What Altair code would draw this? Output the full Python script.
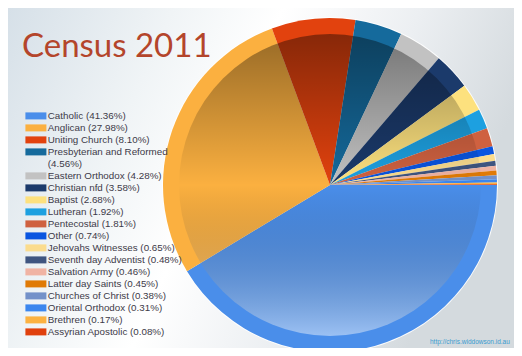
import math
import altair as alt
import pandas as pd

title_text = "Census 2011"
source_text = "http://chris.widdowson.id.au"

names = [
    "Catholic", "Anglican", "Uniting Church", "Presbyterian and Reformed",
    "Eastern Orthodox", "Christian nfd", "Baptist", "Lutheran", "Pentecostal",
    "Other", "Jehovahs Witnesses", "Seventh day Adventist", "Salvation Army",
    "Latter day Saints", "Churches of Christ", "Oriental Orthodox", "Brethren",
    "Assyrian Apostolic",
]
shares = [41.36, 27.98, 8.10, 4.56, 4.28, 3.58, 2.68, 1.92, 1.81,
          0.74, 0.65, 0.48, 0.46, 0.45, 0.38, 0.31, 0.17, 0.08]
colors = ["#4a8eea", "#fbb040", "#e2420e", "#156a9c", "#c2c2c2", "#1b3a6b",
          "#fde17e", "#1da0e0", "#cf6140", "#0a55e0", "#fbdc8e", "#3f5580",
          "#f0b3a3", "#e07a06", "#7391c9", "#3b86ee", "#fcb241", "#e0400d"]

labels = []
for n, s in zip(names, shares):
    if n == "Presbyterian and Reformed":
        labels.append(f"{n}|({s:.2f}%)")
    else:
        labels.append(f"{n} ({s:.2f}%)")

df = pd.DataFrame({"idx": list(range(len(names))), "label": labels, "share": shares})

W, H = 506, 340
CX, CY, R = 322, 177, 167

bg_grad = alt.LinearGradient(
    gradient="linear",
    stops=[
        alt.GradientStop(color="#d6e0e8", offset=0),
        alt.GradientStop(color="#f0f4f6", offset=0.3),
        alt.GradientStop(color="#ffffff", offset=0.5),
        alt.GradientStop(color="#eceff2", offset=0.75),
        alt.GradientStop(color="#d4dade", offset=1),
    ],
    x1=0, x2=1, y1=0, y2=0.3,
)
one = pd.DataFrame({"t": [title_text], "u": [source_text]})

background = alt.Chart(one).mark_rect(fill=bg_grad).encode(
    x=alt.value(0), x2=alt.value(W), y=alt.value(0), y2=alt.value(H)
)

rim = alt.Chart(one).mark_arc(
    theta=0, theta2=2 * math.pi, radius=R + 1, fill="#ffffff", opacity=0.9
).encode(x=alt.value(CX), y=alt.value(CY))

pie = alt.Chart(df).mark_arc(radius=R).encode(
    theta=alt.Theta("share:Q", stack=True,
                    scale=alt.Scale(range=[math.pi / 2, math.pi / 2 + 2 * math.pi])),
    color=alt.Color(
        "label:N",
        scale=alt.Scale(domain=labels, range=colors),
        sort=labels,
        legend=alt.Legend(
            title=None, orient="none", legendX=23, legendY=103,
            symbolType="M-3,-1H3V1H-3Z", symbolSize=49, symbolStrokeWidth=0,
            labelFont="Liberation Sans", labelFontSize=9.8, labelColor="#3d3a48",
            labelLimit=140, labelOffset=7, rowPadding=1.0, padding=0,
            labelExpr="split(datum.label, '|')",
        ),
    ),
    order=alt.Order("idx:Q"),
    x=alt.value(CX), y=alt.value(CY),
)

shade_grad = alt.LinearGradient(
    gradient="linear",
    stops=[
        alt.GradientStop(color="rgba(0,0,0,0.40)", offset=0),
        alt.GradientStop(color="rgba(0,0,0,0.0)", offset=0.5),
        alt.GradientStop(color="rgba(255,255,255,0.45)", offset=1),
    ],
    x1=0, x2=0, y1=0, y2=1,
)
shade = alt.Chart(one).mark_arc(
    theta=0, theta2=2 * math.pi, radius=151, fill=shade_grad
).encode(x=alt.value(CX), y=alt.value(CY))

title = alt.Chart(one).mark_text(
    align="left", baseline="alphabetic", font="Lato", fontSize=33, color="#b4452b"
).encode(text="t:N", x=alt.value(14), y=alt.value(49))

source = alt.Chart(one).mark_text(
    align="left", baseline="alphabetic", font="Liberation Sans", fontSize=6.5,
    color="#3b9ad0"
).encode(text="u:N", x=alt.value(422), y=alt.value(336))

chart = alt.layer(background, rim, pie, shade, title, source).properties(
    width=W, height=H, autosize=alt.AutoSizeParams(type="none"), padding=0
).configure_view(strokeWidth=0)

chart.save("out.html", embed_options={"renderer": "svg", "actions": False})
